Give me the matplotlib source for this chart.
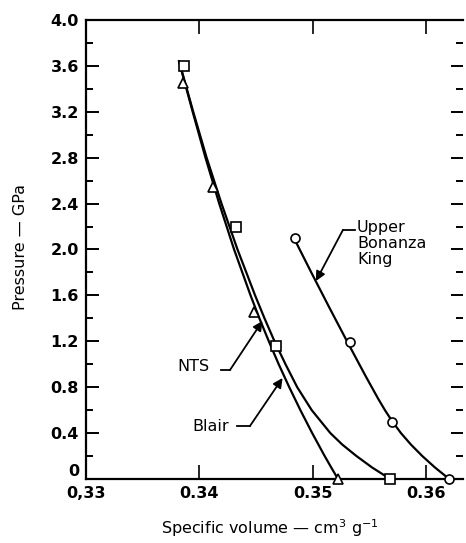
import matplotlib
matplotlib.use("Agg")
import matplotlib.pyplot as plt
from matplotlib.ticker import MultipleLocator, FixedLocator

# smooth curves (specific volume, pressure)
curve_p = [3.64, 3.2, 2.8, 2.4, 2.0, 1.6, 1.4, 1.2, 1.0, 0.8, 0.6, 0.4, 0.3, 0.2, 0.1, 0.0]
blair_v = [0.33820, 0.33940, 0.34053, 0.34174, 0.34305, 0.34450, 0.34528, 0.34611,
           0.34698, 0.34791, 0.34889, 0.34993, 0.35048, 0.35103, 0.35161, 0.35220]
nts_v = [0.33820, 0.33945, 0.34063, 0.34194, 0.34335, 0.34490, 0.34573, 0.34661,
         0.34758, 0.34861, 0.34989, 0.35153, 0.35258, 0.35383, 0.35521, 0.35680]
ubk_p = [2.1, 1.8, 1.5, 1.2, 0.9, 0.7, 0.6, 0.5, 0.4, 0.3, 0.2, 0.1, 0.0]
ubk_v = [0.34832, 0.34985, 0.35141, 0.35300, 0.35462, 0.35574, 0.35634, 0.35700,
         0.35775, 0.35863, 0.35963, 0.36075, 0.36200]

# measured points
blair_pts_v = [0.33855, 0.3412, 0.3448, 0.3522]
blair_pts_p = [3.45, 2.545, 1.455, 0.0]
nts_pts_v = [0.33863, 0.3432, 0.3467, 0.3568]
nts_pts_p = [3.60, 2.20, 1.16, 0.0]
ubk_pts_v = [0.3484, 0.3533, 0.3570, 0.3620]
ubk_pts_p = [2.10, 1.19, 0.50, 0.0]

xticks = [0.33, 0.34, 0.35, 0.36]
xticklabels = ["0,33", "0.34", "0.35", "0.36"]
yticks = [0, 0.4, 0.8, 1.2, 1.6, 2.0, 2.4, 2.8, 3.2, 3.6, 4.0]
yticklabels = ["0", "0.4", "0.8", "1.2", "1.6", "2.0", "2.4", "2.8", "3.2", "3.6", "4.0"]

fig = plt.figure(figsize=(4.66, 5.43), dpi=100)
ax = fig.add_axes([0.1845, 0.1179, 0.8091, 0.8453])

lw = 1.6
ax.plot(blair_v, curve_p, color="black", lw=lw)
ax.plot(nts_v, curve_p, color="black", lw=lw)
ax.plot(ubk_v, ubk_p, color="black", lw=lw)

mk = dict(ls="none", mfc="white", mec="black", mew=1.2, ms=6.5, clip_on=False, zorder=5)
ax.plot(blair_pts_v, blair_pts_p, marker="^", **mk)
ax.plot(nts_pts_v, nts_pts_p, marker="s", **mk)
ax.plot(ubk_pts_v, ubk_pts_p, marker="o", **mk)

ax.set_xlim(0.33, 0.36322)
ax.set_ylim(0, 4.0)

ax.xaxis.set_major_locator(FixedLocator(xticks))
ax.set_xticklabels(xticklabels)
ax.set_yticks(yticks)
ax.set_yticklabels(yticklabels)
ax.yaxis.set_minor_locator(MultipleLocator(0.2))

for s in ["left", "bottom", "top"]:
    ax.spines[s].set_linewidth(1.6)
ax.spines["right"].set_visible(False)

ax.tick_params(axis="y", which="major", direction="in", length=9, width=1.4,
               left=True, right=True, pad=5)
ax.tick_params(axis="y", which="minor", direction="in", length=5, width=1.4,
               left=True, right=True)
ax.tick_params(axis="x", which="major", direction="in", length=10, width=1.2,
               top=True, bottom=True, pad=5)
for t in ax.get_xticklabels() + ax.get_yticklabels():
    t.set_fontsize(11.5)
    t.set_fontweight("bold")
ax.get_yticklabels()[0].set_va("bottom")

# labels with leaders
arrow = dict(arrowstyle="-|>", color="black", lw=1.3, mutation_scale=14,
             shrinkA=0, shrinkB=0)
ax.text(0.35388, 2.257, "Upper\nBonanza\nKing", fontsize=11.5, ha="left", va="top",
        linespacing=1.1)
ax.plot([0.35264, 0.35370], [2.17, 2.17], color="black", lw=1.3)
ax.annotate("", xy=(0.35026, 1.725), xytext=(0.35264, 2.17), arrowprops=arrow)

ax.text(0.33951, 0.976, "NTS", fontsize=11.5, ha="center", va="center")
ax.plot([0.34189, 0.34269], [0.95, 0.95], color="black", lw=1.3)
ax.annotate("", xy=(0.34555, 1.377), xytext=(0.34269, 0.95), arrowprops=arrow)

ax.text(0.34101, 0.453, "Blair", fontsize=11.5, ha="center", va="center")
ax.plot([0.34330, 0.34445], [0.462, 0.462], color="black", lw=1.3)
ax.annotate("", xy=(0.34732, 0.880), xytext=(0.34445, 0.462), arrowprops=arrow)

fig.text(0.043, 0.545, "Pressure — GPa", rotation=90, ha="center", va="center", fontsize=11.5)
fig.text(0.58, 0.016, "Specific volume — cm$^{3}$ g$^{-1}$", ha="center", va="baseline",
         fontsize=11.5)

fig.savefig("out.png", dpi=100)
